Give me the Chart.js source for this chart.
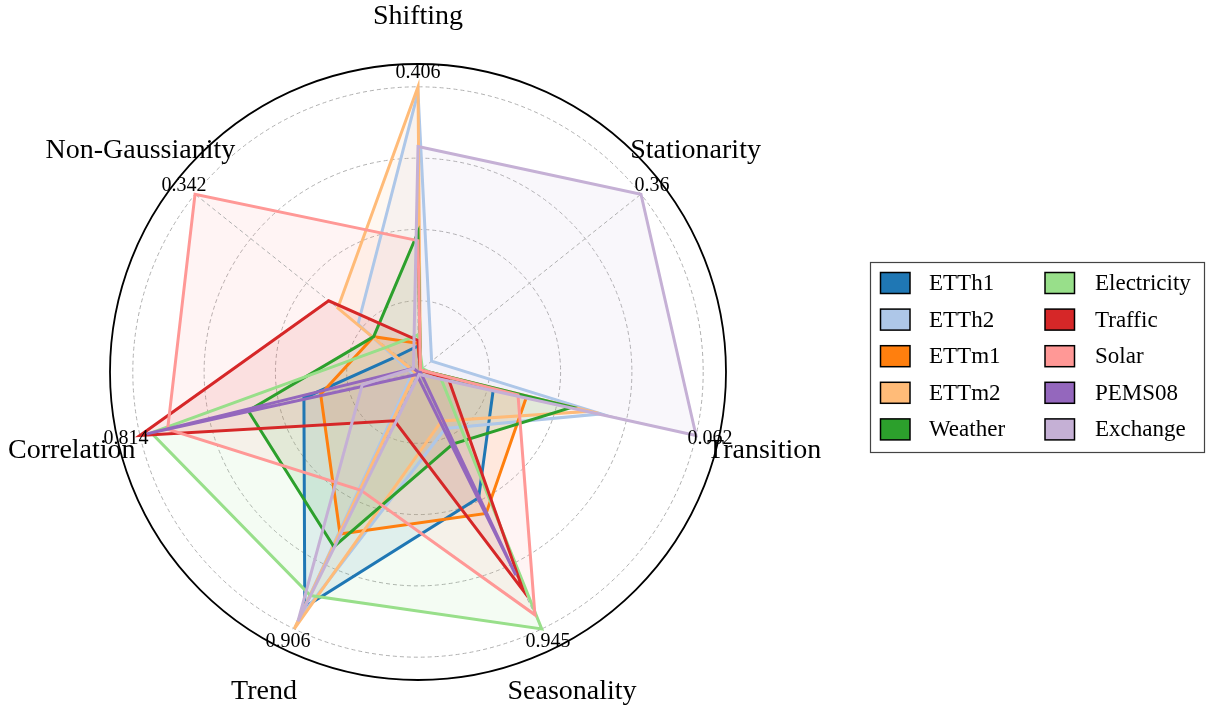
<!DOCTYPE html>
<html>
<head>
<meta charset="utf-8">
<script src="https://cdn.jsdelivr.net/npm/chart.js@4/dist/chart.umd.min.js"></script>
<style>
  html, body { margin: 0; padding: 0; background: #fff; }
  canvas { display: block; }
</style>
</head>
<body>
<canvas id="radar" width="1208" height="709"></canvas>
<script>
// axes (clockwise from top) and the max value of each axis, used to normalise
const axes = ['Shifting', 'Stationarity', 'Transition', 'Seasonality', 'Trend', 'Correlation', 'Non-Gaussianity'];
const axisMax = [0.406, 0.36, 0.062, 0.945, 0.906, 0.814, 0.342];
const axisMaxLabels = ['0.406', '0.36', '0.062', '0.945', '0.906', '0.814', '0.342'];

const names = ['ETTh1', 'ETTh2', 'ETTm1', 'ETTm2', 'Weather', 'Electricity', 'Traffic', 'Solar', 'PEMS08', 'Exchange'];
const colors = ['#1f77b4', '#aec7e8', '#ff7f0e', '#ffbb78', '#2ca02c', '#98df8a', '#d62728', '#ff9896', '#9467bd', '#c5b0d5'];

// raw values, same order as axes
const ETTh1       = [0.037, 0.004, 0.0168, 0.463, 0.829, 0.334, 0.031];
const ETTh2       = [0.398, 0.022, 0.0409, 0.208, 0.870, 0.016, 0.092];
const ETTm1       = [0.041, 0.004, 0.0242, 0.520, 0.571, 0.285, 0.068];
const ETTm2       = [0.406, 0.004, 0.0384, 0.180, 0.906, 0.008, 0.123];
const Weather     = [0.199, 0.004, 0.0344, 0.265, 0.616, 0.497, 0.068];
const Electricity = [0.053, 0.007, 0.0050, 0.945, 0.788, 0.781, 0.048];
const Traffic     = [0.045, 0.004, 0.0068, 0.803, 0.172, 0.814, 0.137];
const Solar       = [0.187, 0.004, 0.0223, 0.893, 0.417, 0.733, 0.342];
const PEMS08      = [0.000, 0.000, 0.0006, 0.747, 0.009, 0.794, 0.007];
const Exchange    = [0.321, 0.360, 0.0620, 0.009, 0.879, 0.163, 0.007];

const series = [ETTh1, ETTh2, ETTm1, ETTm2, Weather, Electricity, Traffic, Solar, PEMS08, Exchange];

const serif = "'Liberation Serif', 'DejaVu Serif', serif";

function hexToRgba(hex, a) {
  const n = parseInt(hex.slice(1), 16);
  return `rgba(${(n >> 16) & 255}, ${(n >> 8) & 255}, ${n & 255}, ${a})`;
}

const datasets = series.map((vals, k) => ({
  label: names[k],
  data: vals.map((v, i) => v / axisMax[i]),
  borderColor: colors[k],
  backgroundColor: hexToRgba(colors[k], 0.1),
  borderWidth: 3,
  fill: true,
  pointRadius: 0,
  pointHoverRadius: 0,
  order: series.length - k
}));

// dashed spokes, outer frame, axis names, max labels and legend
const decorations = {
  id: 'decorations',
  beforeDatasetsDraw(chart) {
    const scale = chart.scales.r;
    const ctx = chart.ctx;
    const r1 = scale.getDistanceFromCenterForValue(1);
    ctx.save();
    ctx.strokeStyle = '#b0b0b0';
    ctx.lineWidth = 1;
    ctx.setLineDash([4, 3]);
    axes.forEach((a, i) => {
      const p = scale.getPointPosition(i, r1);
      ctx.beginPath();
      ctx.moveTo(scale.xCenter, scale.yCenter);
      ctx.lineTo(p.x, p.y);
      ctx.stroke();
    });
    ctx.restore();
  },
  afterDatasetsDraw(chart) {
    const scale = chart.scales.r;
    const ctx = chart.ctx;
    const r1 = scale.getDistanceFromCenterForValue(1);
    ctx.save();
    // outer circle
    ctx.strokeStyle = '#000';
    ctx.lineWidth = 1.8;
    ctx.beginPath();
    ctx.arc(scale.xCenter, scale.yCenter, scale.drawingArea, 0, Math.PI * 2);
    ctx.stroke();

    ctx.fillStyle = '#000';
    ctx.textAlign = 'center';
    ctx.textBaseline = 'middle';
    // max value labels
    ctx.font = '20px ' + serif;
    axisMaxLabels.forEach((t, i) => {
      const p = scale.getPointPosition(i, r1 * 1.05);
      ctx.fillText(t, p.x, p.y);
    });
    // axis names
    ctx.font = '28px ' + serif;
    axes.forEach((t, i) => {
      const p = scale.getPointPosition(i, r1 * 1.245);
      ctx.fillText(t, p.x, p.y);
    });
    ctx.restore();
  },
  afterDraw(chart) {
    const ctx = chart.ctx;
    const box = { x: 870.5, y: 262.5, w: 334, h: 190 };
    ctx.save();
    ctx.fillStyle = '#fff';
    ctx.fillRect(box.x, box.y, box.w, box.h);
    ctx.strokeStyle = '#444';
    ctx.lineWidth = 1.2;
    ctx.strokeRect(box.x, box.y, box.w, box.h);
    ctx.font = '23px ' + serif;
    ctx.textAlign = 'left';
    ctx.textBaseline = 'middle';
    names.forEach((name, k) => {
      const col = Math.floor(k / 5);
      const row = k % 5;
      const px = col === 0 ? 880.5 : 1045;
      const tx = col === 0 ? 929 : 1095;
      const cy = 283 + row * 36.6;
      ctx.fillStyle = colors[k];
      ctx.fillRect(px, cy - 10.5, 29.5, 21);
      ctx.strokeStyle = '#000';
      ctx.lineWidth = 1.5;
      ctx.strokeRect(px, cy - 10.5, 29.5, 21);
      ctx.fillStyle = '#000';
      ctx.fillText(name, tx, cy + 1);
    });
    ctx.restore();
  }
};

new Chart(document.getElementById('radar').getContext('2d'), {
  type: 'radar',
  data: { labels: axes, datasets: datasets },
  options: {
    responsive: false,
    animation: false,
    layout: { padding: { left: 109, right: 481, top: 64, bottom: 28 } },
    elements: { line: { tension: 0, borderJoinStyle: 'miter' } },
    plugins: {
      legend: { display: false },
      tooltip: { enabled: false },
      // all fills under all lines
      filler: { drawTime: 'beforeDatasetsDraw' }
    },
    scales: {
      r: {
        min: 0,
        max: 1.08,
        ticks: { display: false, stepSize: 0.25, includeBounds: false },
        pointLabels: { display: false },
        angleLines: { display: false },
        grid: {
          circular: true,
          color: '#b0b0b0',
          lineWidth: 1
        },
        border: { dash: [4, 3] }
      }
    }
  },
  plugins: [decorations]
});
</script>
</body>
</html>
